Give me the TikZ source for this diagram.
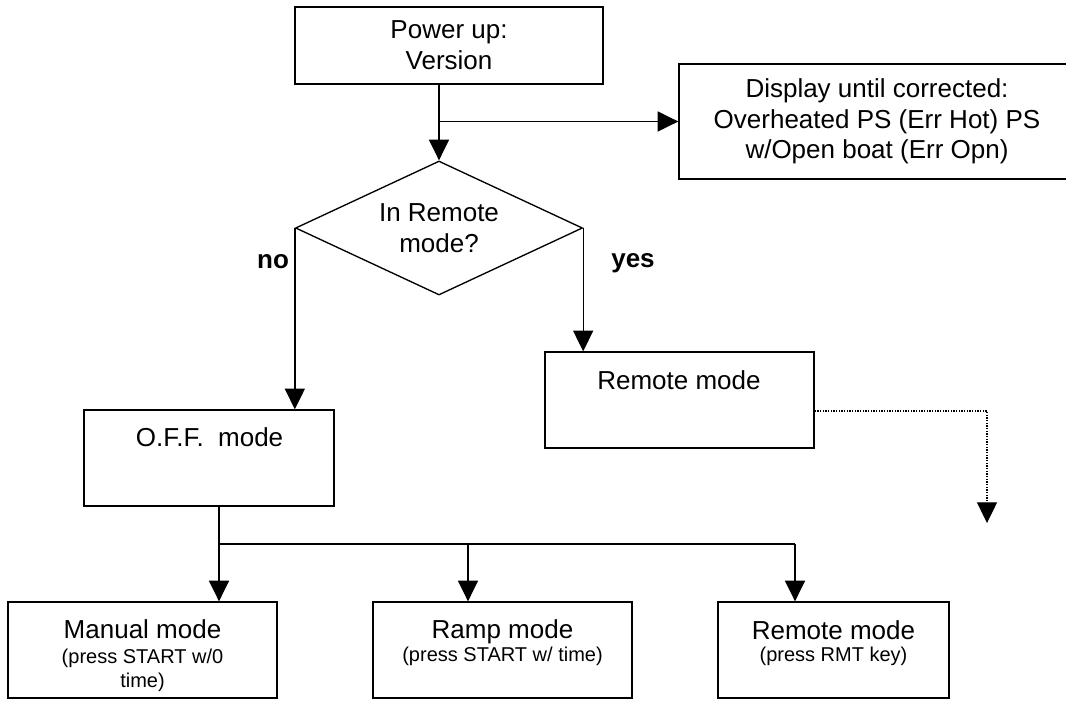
\documentclass[tikz,border=0pt]{standalone}
\usepackage{fontspec}
\setmainfont{Liberation Sans}
\usetikzlibrary{arrows.meta,shapes.geometric}
\begin{document}
\begin{tikzpicture}[x=0.75pt,y=-0.75pt,
  box/.style={draw, line width=1pt, rectangle, inner sep=0pt},
  conn/.style={line width=1pt, -{Triangle[length=15.5pt,width=15pt]}},
  plain/.style={line width=1pt},
  bigf/.style={font=\fontsize{19.5}{23}\selectfont},
  smallf/.style={font=\fontsize{15}{18}\selectfont},
  boldf/.style={font=\fontsize{19.5}{23}\selectfont\bfseries}]
\useasboundingbox (0,0) rectangle (1066,700);

% boxes
\node[box, minimum width=308*0.75pt, minimum height=77*0.75pt, align=center, bigf] (pw) at (449,45.5) {Power up:\\Version};
\node[box, minimum width=396*0.75pt, minimum height=115*0.75pt, align=center, bigf] (disp) at (877,121.5) {Display until corrected:\\Overheated PS (Err Hot) PS\\w/Open boat (Err Opn)};
\node[draw, line width=1pt, shape=diamond, aspect=2.14, minimum width=287*0.75pt, minimum height=134*0.75pt, inner sep=0pt, align=center, bigf] (dia) at (439,228) {In Remote\\mode?};

\node[box, minimum width=250*0.75pt, minimum height=96*0.75pt] (off) at (209,458) {};
\node[bigf, anchor=base] (offt) at (209.5,446) {O.F.F.\ \ mode};

\node[box, minimum width=269*0.75pt, minimum height=96*0.75pt] (rem) at (679.5,400) {};
\node[bigf, anchor=base] (remt) at (679,389) {Remote mode};

\node[box, minimum width=269*0.75pt, minimum height=96*0.75pt] (man) at (142.5,650) {};
\node[bigf, anchor=base] (mant) at (142.5,638) {Manual mode};
\node[smallf, align=center] (mans) at (142.5,670) {(press START w/0\\time)};

\node[box, minimum width=259*0.75pt, minimum height=96*0.75pt] (ramp) at (502.5,650) {};
\node[bigf, anchor=base] (rampt) at (502.5,638) {Ramp mode};
\node[smallf] (ramps) at (502.5,656) {(press START w/ time)};

\node[box, minimum width=231*0.75pt, minimum height=96*0.75pt] (rmt) at (833.5,650) {};
\node[bigf, anchor=base] (rmtt) at (833.5,639) {Remote mode};
\node[smallf] (rmts) at (833.5,656) {(press RMT key)};

% labels
\node[boldf] (no) at (273,262) {no};
\node[boldf] (yes) at (633,263) {yes};

% connectors
\draw[conn] (dia.north |- pw.south) -- (dia.north);
\coordinate (j1) at (dia.north |- disp.west);
\draw[conn] (j1) -- (disp.west);
\draw[conn] (dia.west) -- (dia.west |- off.north);
\draw[conn] (dia.east) -- (dia.east |- rem.north);

\coordinate (b1) at (219,544);
\coordinate (b2) at (468,544);
\coordinate (b3) at (795,544);
\draw[plain] (b1 |- off.south) -- (b1);
\draw[plain] (b1) -- (b3);
\draw[conn] (b1) -- (b1 |- man.north);
\draw[conn] (b2) -- (b2 |- ramp.north);
\draw[conn] (b3) -- (b3 |- rmt.north);

\coordinate (d1) at (987,411);
\coordinate (d2) at (987,523);
\draw[line width=0.9pt, dash pattern=on 1pt off 1pt, -{Triangle[length=15.5pt,width=15pt]}] (rem.east |- d1) -- (d1) -- (d2);
\end{tikzpicture}
\end{document}
